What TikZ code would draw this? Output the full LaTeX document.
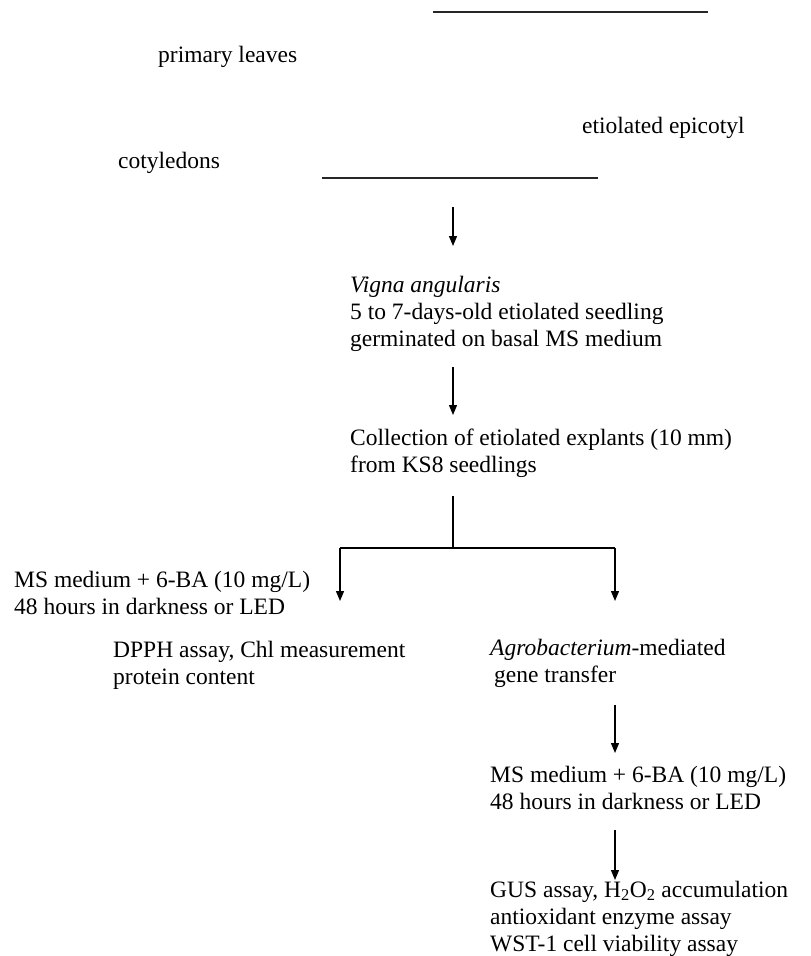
\documentclass[tikz,border=0pt]{standalone}
\usepackage{fontspec}
\setmainfont{Liberation Serif}
\usetikzlibrary{arrows.meta}
\begin{document}
\begin{tikzpicture}[x=1pt,y=-1pt,
  txt/.style={anchor=base west,inner sep=0pt,align=left,font=\fontsize{23.5}{27}\selectfont},
  rule/.style={line width=1.4pt,black!85},
  arr/.style={line width=1.3pt,-{Triangle[length=10pt,width=8pt]}},
  ln/.style={line width=1.3pt}]
\useasboundingbox (0,0) rectangle (811,956);
% top labels and lines
\coordinate (l1a) at (433,12); \coordinate (l1b) at (708,12);
\draw[rule] (l1a) -- (l1b);
\node[txt] (pl) at (158,62) {primary leaves};
\node[txt] (ee) at (582,133) {etiolated epicotyl};
\node[txt] (cot) at (118,168) {cotyledons};
\coordinate (l2a) at (322,178); \coordinate (l2b) at (598,178);
\draw[rule] (l2a) -- (l2b);
% main column
\coordinate (a1s) at (453,207); \coordinate (a1e) at (453,246);
\draw[arr] (a1s) -- (a1e);
\node[txt] (vig) at (350,346) {\textit{Vigna angularis}\\5 to 7-days-old etiolated seedling\\germinated on basal MS medium};
\coordinate (a2s) at (453,367); \coordinate (a2e) at (453,415);
\draw[arr] (a2s) -- (a2e);
\node[txt] (col) at (350,472) {Collection of etiolated explants (10 mm)\\from KS8 seedlings};
\coordinate (sp) at (453,496); \coordinate (br) at (453,548);
\coordinate (bl) at (340,548); \coordinate (brr) at (615,548);
\coordinate (lend) at (340,601); \coordinate (rend) at (615,601);
\draw[ln] (sp) -- (br);
\draw[ln] (bl) -- (brr);
\draw[arr] (bl) -- (lend);
\draw[arr] (brr) -- (rend);
% left branch
\node[txt] (ms1) at (14,614) {MS medium + 6-BA (10 mg/L)\\48 hours in darkness or LED};
\node[txt] (dpph) at (113,684) {DPPH assay, Chl measurement\\protein content};
% right branch
\node[txt] (agro) at (490,682) {\textit{Agrobacterium}-mediated\\\hspace{4pt}gene transfer};
\coordinate (a3s) at (615,705); \coordinate (a3e) at (615,753);
\draw[arr] (a3s) -- (a3e);
\node[txt] (ms2) at (490,809) {MS medium + 6-BA (10 mg/L)\\48 hours in darkness or LED};
\coordinate (a4s) at (615,830); \coordinate (a4e) at (615,880);
\draw[arr] (a4s) -- (a4e);
\node[txt] (gus) at (490,951) {GUS assay, H\textsubscript{2}O\textsubscript{2} accumulation\\antioxidant enzyme assay\\WST-1 cell viability assay};
\end{tikzpicture}
\end{document}
